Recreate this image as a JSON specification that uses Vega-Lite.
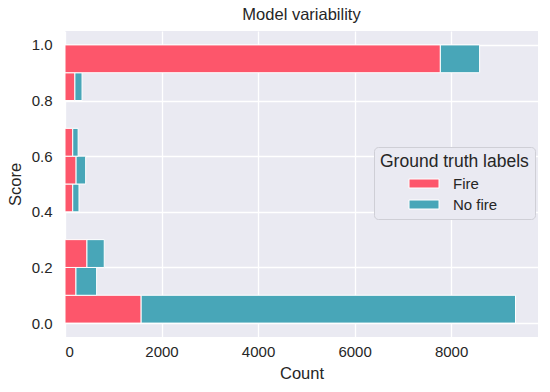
{
  "$schema": "https://vega.github.io/schema/vega-lite/v6.json",
  "width": 473,
  "height": 306,
  "autosize": {"type": "none"},
  "padding": {"left": 65, "top": 31, "right": 12, "bottom": 55},
  "background": "white",
  "config": {
    "font": "Liberation Sans",
    "view": {"fill": "#EAEAF2", "stroke": null},
    "axis": {
      "domain": false,
      "ticks": false,
      "grid": true,
      "gridColor": "white",
      "gridWidth": 1.3,
      "labelColor": "#262626",
      "titleColor": "#262626",
      "labelFontSize": 15,
      "titleFontSize": 16.5,
      "titleFontWeight": "normal",
      "labelFont": "Liberation Sans",
      "titleFont": "Liberation Sans"
    },
    "title": {"fontSize": 16.5, "fontWeight": "normal", "color": "#262626", "font": "Liberation Sans"}
  },
  "title": {"text": "Model variability", "offset": 8},
  "data": {
    "values": [
      {"bin_start": 0.0, "bin_end": 0.1, "label": "Fire", "count": 1578},
      {"bin_start": 0.0, "bin_end": 0.1, "label": "No fire", "count": 7756},
      {"bin_start": 0.1, "bin_end": 0.2, "label": "Fire", "count": 227},
      {"bin_start": 0.1, "bin_end": 0.2, "label": "No fire", "count": 428},
      {"bin_start": 0.2, "bin_end": 0.3, "label": "Fire", "count": 455},
      {"bin_start": 0.2, "bin_end": 0.3, "label": "No fire", "count": 358},
      {"bin_start": 0.4, "bin_end": 0.5, "label": "Fire", "count": 160},
      {"bin_start": 0.4, "bin_end": 0.5, "label": "No fire", "count": 130},
      {"bin_start": 0.5, "bin_end": 0.6, "label": "Fire", "count": 230},
      {"bin_start": 0.5, "bin_end": 0.6, "label": "No fire", "count": 198},
      {"bin_start": 0.6, "bin_end": 0.7, "label": "Fire", "count": 160},
      {"bin_start": 0.6, "bin_end": 0.7, "label": "No fire", "count": 112},
      {"bin_start": 0.8, "bin_end": 0.9, "label": "Fire", "count": 205},
      {"bin_start": 0.8, "bin_end": 0.9, "label": "No fire", "count": 148},
      {"bin_start": 0.9, "bin_end": 1.0, "label": "Fire", "count": 7777},
      {"bin_start": 0.9, "bin_end": 1.0, "label": "No fire", "count": 813}
    ]
  },
  "transform": [
    {"stack": "count", "groupby": ["bin_start"], "sort": [{"field": "label", "order": "ascending"}], "as": ["x0", "x1"]}
  ],
  "mark": {"type": "bar", "stroke": "white", "strokeWidth": 1, "opacity": 1},
  "encoding": {
    "y": {
      "field": "bin_start",
      "type": "quantitative",
      "scale": {"domain": [-0.05, 1.05], "nice": false, "zero": false},
      "axis": {"title": "Score", "values": [0, 0.2, 0.4, 0.6, 0.8, 1.0], "format": ".1f", "labelPadding": 13, "titlePadding": 8}
    },
    "y2": {"field": "bin_end"},
    "x": {
      "field": "x0",
      "type": "quantitative",
      "scale": {"domain": [0, 9800], "nice": false},
      "axis": {"title": "Count", "values": [0, 2000, 4000, 6000, 8000], "format": "d", "labelPadding": 7, "titlePadding": 6}
    },
    "x2": {"field": "x1"},
    "color": {
      "field": "label",
      "type": "nominal",
      "scale": {"domain": ["Fire", "No fire"], "range": ["#fd566b", "#48a6b8"]},
      "legend": {
        "title": "Ground truth labels",
        "orient": "none",
        "legendX": 309,
        "legendY": 116,
        "fillColor": "#EAEAF2",
        "strokeColor": "#cfcfd6",
        "cornerRadius": 4,
        "padding": 6,
        "titleFontSize": 17.5,
        "titleFontWeight": "normal",
        "titleColor": "#262626",
        "titlePadding": 5,
        "labelFontSize": 15,
        "labelColor": "#262626",
        "labelOffset": 21,
        "rowPadding": 5,
        "symbolType": "M-2,-0.6H2V0.6H-2Z",
        "symbolSize": 225,
        "symbolStrokeColor": "white",
        "symbolStrokeWidth": 1,
        "symbolOffset": 36
      }
    }
  }
}
